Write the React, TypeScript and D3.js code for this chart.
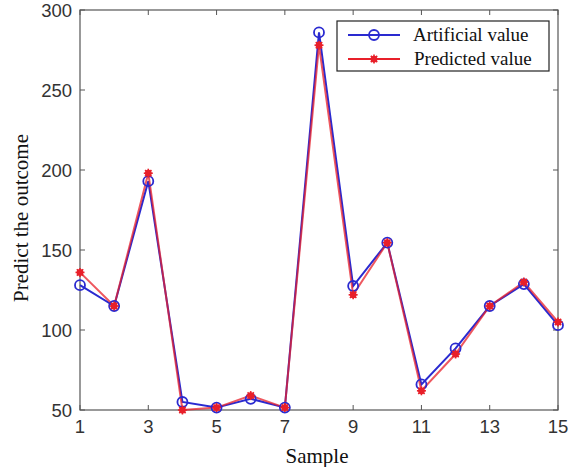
import React from "react";
import * as d3 from "d3";

const samples = [1, 2, 3, 4, 5, 6, 7, 8, 9, 10, 11, 12, 13, 14, 15];
const artificial = [128, 115, 193, 55, 51.5, 57, 51.5, 286, 127.5, 154.6, 66, 88.5, 115, 128.7, 103];
const predicted = [136, 115, 198, 50, 51.5, 59, 51.5, 278, 122, 154.6, 62, 85, 115, 130, 105];
const xTicks = [1, 3, 5, 7, 9, 11, 13, 15];
const yTicks = [50, 100, 150, 200, 250, 300];

const W = 574, H = 467;
const m = { left: 80, right: 16, top: 10, bottom: 57 };
const BLUE = "#2a2ad0";
const RED = "#e8202a";

function Asterisk({ x, y, r, color }: { x: number; y: number; r: number; color: string }) {
  const angles = [0, 45, 90, 135];
  return (
    <g>
      <circle cx={x} cy={y} r={r * 0.75} fill={color} />
      {angles.map((a) => {
        const rad = (a * Math.PI) / 180;
        return (
          <line key={a} x1={x - r * Math.cos(rad)} y1={y - r * Math.sin(rad)} x2={x + r * Math.cos(rad)} y2={y + r * Math.sin(rad)} stroke={color} strokeWidth={1.6} />
        );
      })}
    </g>
  );
}

export default function App() {
  const x = d3.scaleLinear().domain([1, 15]).range([m.left, W - m.right - 0]);
  const y = d3.scaleLinear().domain([50, 300]).range([H - m.bottom, m.top]);
  const line = d3.line<number>().x((_, i) => x(samples[i])).y((d) => y(d));
  const x0 = x.range()[0], x1 = x.range()[1], y0 = y.range()[0], y1 = y.range()[1];
  const axisColor = "#555";
  const tickFont = "'Liberation Sans', Arial, sans-serif";
  const serif = "'Liberation Serif', 'Times New Roman', serif";

  return (
    <svg width={W} height={H} style={{ position: "absolute", left: 0, top: 0 }}>
      <rect x={0} y={0} width={W} height={H} fill="#fff" />
      <rect x={x0} y={y1} width={x1 - x0} height={y0 - y1} fill="none" stroke={axisColor} strokeWidth={1.2} />
      {xTicks.map((t) => (
        <g key={"x" + t}>
          <line x1={x(t)} x2={x(t)} y1={y0} y2={y0 - 5} stroke={axisColor} />
          <line x1={x(t)} x2={x(t)} y1={y1} y2={y1 + 5} stroke={axisColor} />
          <text x={x(t)} y={y0 + 23} textAnchor="middle" fontFamily={tickFont} fontSize={18.5} fill="#333">{t}</text>
        </g>
      ))}
      {yTicks.map((t) => (
        <g key={"y" + t}>
          <line x1={x0} x2={x0 + 5} y1={y(t)} y2={y(t)} stroke={axisColor} />
          <line x1={x1} x2={x1 - 5} y1={y(t)} y2={y(t)} stroke={axisColor} />
          <text x={x0 - 8} y={y(t) + 6.5} textAnchor="end" fontFamily={tickFont} fontSize={18.5} fill="#333">{t}</text>
        </g>
      ))}
      <text x={317} y={H - 4} textAnchor="middle" fontFamily={serif} fontSize={21} fill="#111">Sample</text>
      <text transform={`translate(28, ${(y0 + y1) / 2 + 8}) rotate(-90)`} textAnchor="middle" fontFamily={serif} fontSize={21} fill="#111">Predict the outcome</text>

      <path d={line(artificial) || ""} fill="none" stroke={BLUE} strokeWidth={2} />
      <path d={line(predicted) || ""} fill="none" stroke={RED} strokeWidth={2} strokeOpacity={0.75} />
      {artificial.map((v, i) => (
        <circle key={"a" + i} cx={x(samples[i])} cy={y(v)} r={5} fill="none" stroke={BLUE} strokeWidth={1.8} />
      ))}
      {predicted.map((v, i) => (
        <Asterisk key={"p" + i} x={x(samples[i])} y={y(v)} r={4.5} color={RED} />
      ))}

      <rect x={337} y={21} width={212} height={50} fill="#fff" stroke="#222" strokeWidth={1.2} />
      <line x1={348} x2={400} y1={35} y2={35} stroke={BLUE} strokeWidth={2} />
      <circle cx={374} cy={35} r={5} fill="none" stroke={BLUE} strokeWidth={1.8} />
      <text x={413} y={41} fontFamily={serif} fontSize={19} fill="#111">Artificial value</text>
      <line x1={348} x2={400} y1={59} y2={59} stroke={RED} strokeWidth={2} />
      <Asterisk x={374} y={59} r={4.5} color={RED} />
      <text x={414} y={65} fontFamily={serif} fontSize={19} fill="#111">Predicted value</text>
    </svg>
  );
}
